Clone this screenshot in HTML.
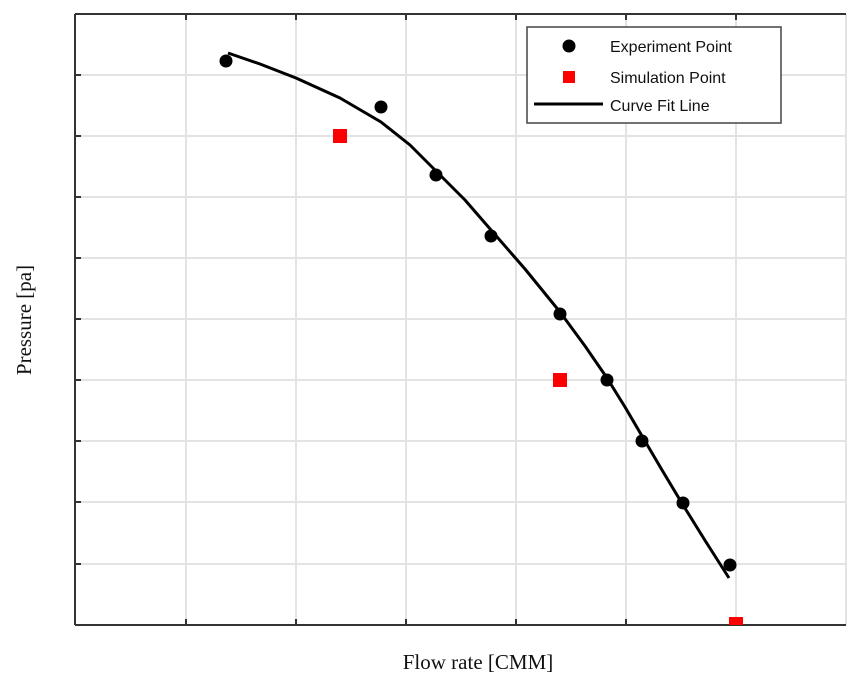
<!DOCTYPE html>
<html><head><meta charset="utf-8"><style>body{margin:0;background:#fff}</style></head>
<body>
<svg width="864" height="681" xmlns="http://www.w3.org/2000/svg">
<rect width="864" height="681" fill="#fff"/>
<g stroke="#e3e3e3" stroke-width="2">
<line x1="186" y1="14" x2="186" y2="625"/><line x1="296" y1="14" x2="296" y2="625"/>
<line x1="406" y1="14" x2="406" y2="625"/><line x1="516" y1="14" x2="516" y2="625"/>
<line x1="626" y1="14" x2="626" y2="625"/><line x1="736" y1="14" x2="736" y2="625"/>
<line x1="846" y1="14" x2="846" y2="625"/>
<line x1="75" y1="75" x2="846" y2="75"/><line x1="75" y1="136" x2="846" y2="136"/>
<line x1="75" y1="197" x2="846" y2="197"/><line x1="75" y1="258" x2="846" y2="258"/>
<line x1="75" y1="319" x2="846" y2="319"/><line x1="75" y1="380" x2="846" y2="380"/>
<line x1="75" y1="441" x2="846" y2="441"/><line x1="75" y1="502" x2="846" y2="502"/>
<line x1="75" y1="564" x2="846" y2="564"/>
</g>
<g stroke="#333" stroke-width="2">
<line x1="75" y1="14" x2="846" y2="14"/><line x1="75" y1="625" x2="846" y2="625"/>
<line x1="75" y1="14" x2="75" y2="625"/>
</g>
<g stroke="#333" stroke-width="2">
<line x1="186" y1="14" x2="186" y2="20"/><line x1="296" y1="14" x2="296" y2="20"/><line x1="406" y1="14" x2="406" y2="20"/><line x1="516" y1="14" x2="516" y2="20"/><line x1="626" y1="14" x2="626" y2="20"/><line x1="736" y1="14" x2="736" y2="20"/>
<line x1="186" y1="625" x2="186" y2="619"/><line x1="296" y1="625" x2="296" y2="619"/><line x1="406" y1="625" x2="406" y2="619"/><line x1="516" y1="625" x2="516" y2="619"/><line x1="626" y1="625" x2="626" y2="619"/><line x1="736" y1="625" x2="736" y2="619"/>
<line x1="75" y1="75" x2="81" y2="75"/><line x1="75" y1="136" x2="81" y2="136"/><line x1="75" y1="197" x2="81" y2="197"/><line x1="75" y1="258" x2="81" y2="258"/><line x1="75" y1="319" x2="81" y2="319"/><line x1="75" y1="380" x2="81" y2="380"/><line x1="75" y1="441" x2="81" y2="441"/><line x1="75" y1="502" x2="81" y2="502"/><line x1="75" y1="564" x2="81" y2="564"/>
</g>
<polyline points="228,53 260,64 296,78 340,98 381,122 410,145 436,171 465,200 491,230 525,269 560,312 585,346 607,378 625,407 642,436 662,470 683,505 706,542 729,578" fill="none" stroke="#000" stroke-width="3" stroke-linejoin="round"/>
<g fill="#000">
<circle cx="226" cy="61" r="6.5"/><circle cx="381" cy="107" r="6.5"/><circle cx="436" cy="175" r="6.5"/>
<circle cx="491" cy="236" r="6.5"/><circle cx="560" cy="314" r="6.5"/><circle cx="607" cy="380" r="6.5"/>
<circle cx="642" cy="441" r="6.5"/><circle cx="683" cy="503" r="6.5"/><circle cx="730" cy="565" r="6.5"/>
</g>
<g fill="#f00">
<rect x="333" y="129" width="14" height="14"/><rect x="553" y="373" width="14" height="14"/><rect x="729" y="617" width="14" height="8"/>
</g>
<rect x="527" y="27" width="254" height="96" fill="#fff" stroke="#444" stroke-width="1.5"/>
<circle cx="569" cy="46" r="6.5" fill="#000"/>
<rect x="563" y="71" width="12" height="12" fill="#f00"/>
<line x1="534" y1="104" x2="603" y2="104" stroke="#000" stroke-width="3"/>
<g font-family="Liberation Sans, sans-serif" font-size="16" fill="#111">
<text x="610" y="52">Experiment Point</text>
<text x="610" y="83">Simulation Point</text>
<text x="610" y="111">Curve Fit Line</text>
</g>
<text x="478" y="669" text-anchor="middle" font-family="Liberation Serif, serif" font-size="21" fill="#111">Flow rate [CMM]</text>
<text transform="translate(31,320) rotate(-90)" text-anchor="middle" font-family="Liberation Serif, serif" font-size="21" fill="#111">Pressure [pa]</text>
</svg>
</body></html>
